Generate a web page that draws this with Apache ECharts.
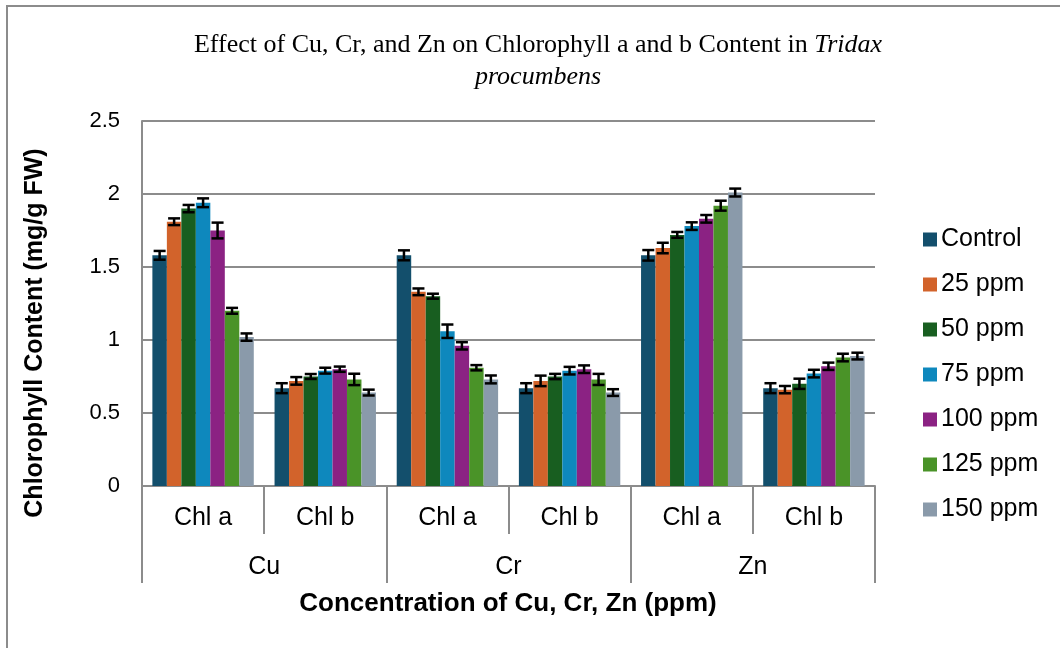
<!DOCTYPE html>
<html>
<head>
<meta charset="utf-8">
<script src="https://cdn.jsdelivr.net/npm/echarts@6/dist/echarts.min.js"></script>
<style>
  html, body { margin: 0; padding: 0; background: #fff; }
  #frame { position: absolute; left: 6px; top: 5px; width: 1100px; height: 700px; border: 2px solid #8c8c8c; box-sizing: border-box; }
  #chart { position: absolute; left: 0; top: 0; width: 1060px; height: 648px; }
</style>
</head>
<body>
<div id="frame"></div>
<div id="chart"></div>
<script>
// Pigment categories (inner axis) and metals (outer axis)
const pigments = ['Chl a', 'Chl b', 'Chl a', 'Chl b', 'Chl a', 'Chl b'];
const metals = ['Cu', 'Cr', 'Zn'];
const treatments = ['Control', '25 ppm', '50 ppm', '75 ppm', '100 ppm', '125 ppm', '150 ppm'];
const yTicks = [0, 0.5, 1, 1.5, 2, 2.5];

// Mean chlorophyll content (mg/g FW), one array per treatment, in pigment order
const control = [1.58, 0.67, 1.58, 0.67, 1.58, 0.67];
const ppm25   = [1.81, 0.72, 1.33, 0.72, 1.63, 0.66];
const ppm50   = [1.90, 0.75, 1.30, 0.75, 1.72, 0.70];
const ppm75   = [1.94, 0.79, 1.06, 0.79, 1.78, 0.77];
const ppm100  = [1.75, 0.80, 0.96, 0.80, 1.83, 0.82];
const ppm125  = [1.20, 0.73, 0.81, 0.73, 1.92, 0.88];
const ppm150  = [1.02, 0.64, 0.73, 0.64, 2.01, 0.89];

// Standard errors, same layout
const errControl = [0.03, 0.034, 0.034, 0.034, 0.036, 0.034];
const err25      = [0.023, 0.026, 0.023, 0.036, 0.036, 0.025];
const err50      = [0.025, 0.017, 0.017, 0.018, 0.02, 0.035];
const err75      = [0.03, 0.02, 0.046, 0.026, 0.026, 0.026];
const err100     = [0.054, 0.018, 0.025, 0.026, 0.026, 0.025];
const err125     = [0.02, 0.039, 0.018, 0.038, 0.034, 0.026];
const err150     = [0.025, 0.02, 0.027, 0.023, 0.027, 0.023];

const colors = ['#134f6c', '#d2632b', '#185e20', '#0e88bd', '#8b2283', '#4a9328', '#8a9aaa'];
const means = [control, ppm25, ppm50, ppm75, ppm100, ppm125, ppm150];
const errs = [errControl, err25, err50, err75, err100, err125, err150];

const CAT_GAP = 0.17;
const sans = 'Liberation Sans, Arial, sans-serif';
const serif = 'Liberation Serif, Times New Roman, serif';

const barSeries = treatments.map((name, s) => ({
  name: name,
  type: 'bar',
  xAxisIndex: 0,
  barGap: '0%',
  barCategoryGap: (CAT_GAP * 100) + '%',
  itemStyle: { color: colors[s] },
  data: means[s]
}));

// Error bar items: [category index, treatment index, mean, error]
const errData = [];
means.forEach((arr, s) => arr.forEach((v, c) => errData.push([c, s, v, errs[s][c]])));

const errorSeries = {
  type: 'custom',
  xAxisIndex: 0,
  z: 10,
  silent: true,
  data: errData,
  renderItem: function (params, api) {
    const c = api.value(0), s = api.value(1), v = api.value(2), e = api.value(3);
    const band = api.size([1, 0])[0];
    const groupW = band * (1 - CAT_GAP);
    const barW = groupW / treatments.length;
    const cx = api.coord([c, 0])[0] - groupW / 2 + (s + 0.5) * barW;
    const yTop = api.coord([c, v + e])[1];
    const yBot = api.coord([c, v - e])[1];
    const half = 6;
    const style = { stroke: '#000', lineWidth: 2.5 };
    return {
      type: 'group',
      children: [
        { type: 'line', shape: { x1: cx, y1: yTop, x2: cx, y2: yBot }, style: style },
        { type: 'line', shape: { x1: cx - half, y1: yTop, x2: cx + half, y2: yTop }, style: style },
        { type: 'line', shape: { x1: cx - half, y1: yBot, x2: cx + half, y2: yBot }, style: style }
      ]
    };
  }
};

const chart = echarts.init(document.getElementById('chart'), null, { renderer: 'canvas' });
chart.setOption({
  animation: false,
  backgroundColor: 'transparent',
  title: {
    text: 'Effect of Cu, Cr, and Zn on Chlorophyll a and b Content in {i|Tridax}\n{i|procumbens}',
    left: 533,
    top: 24,
    textAlign: 'center',
    textStyle: {
      fontFamily: serif,
      fontSize: 26,
      fontWeight: 'normal',
      color: '#000',
      lineHeight: 32,
      rich: {
        i: { fontFamily: serif, fontSize: 26, fontStyle: 'italic', color: '#000', lineHeight: 32 }
      }
    }
  },
  legend: {
    data: treatments,
    orient: 'vertical',
    left: 918,
    top: 222,
    itemWidth: 14,
    itemHeight: 14,
    itemGap: 20,
    icon: 'rect',
    textStyle: { fontFamily: sans, fontSize: 25, color: '#000', lineHeight: 25, padding: [0, 0, 0, -1] }
  },
  grid: { left: 142, right: 185, top: 121, bottom: 162, containLabel: false },
  xAxis: [
    {
      type: 'category',
      data: pigments,
      position: 'bottom',
      axisLine: { show: true, lineStyle: { color: '#8c8c8c', width: 2 } },
      axisTick: { show: true, interval: 0, length: 48, lineStyle: { color: '#8c8c8c', width: 2 } },
      axisLabel: { interval: 0, margin: 20, fontFamily: sans, fontSize: 25, color: '#000' },
      splitLine: { show: false }
    },
    {
      type: 'category',
      data: metals,
      position: 'bottom',
      axisLine: { show: false },
      axisTick: { show: true, interval: 0, length: 97, lineStyle: { color: '#8c8c8c', width: 2 } },
      axisLabel: { interval: 0, margin: 69, fontFamily: sans, fontSize: 25, color: '#000' },
      splitLine: { show: false }
    }
  ],
  yAxis: {
    type: 'value',
    min: yTicks[0],
    max: yTicks[yTicks.length - 1],
    interval: yTicks[1] - yTicks[0],
    axisLine: { show: true, lineStyle: { color: '#8c8c8c', width: 2 } },
    axisTick: { show: false },
    axisLabel: { margin: 22, fontFamily: sans, fontSize: 22, color: '#000' },
    splitLine: { show: true, lineStyle: { color: '#8c8c8c', width: 2 } }
  },
  graphic: [
    {
      type: 'text',
      x: 35, y: 333,
      rotation: Math.PI / 2,
      style: {
        text: 'Chlorophyll Content (mg/g FW)',
        fontFamily: sans, fontSize: 25, fontWeight: 'bold', fill: '#000',
        align: 'center', verticalAlign: 'middle'
      }
    },
    {
      type: 'text',
      x: 508, y: 604,
      style: {
        text: 'Concentration of Cu, Cr, Zn (ppm)',
        fontFamily: sans, fontSize: 26, fontWeight: 'bold', fill: '#000',
        align: 'center', verticalAlign: 'middle'
      }
    }
  ],
  series: barSeries.concat([errorSeries])
});
</script>
</body>
</html>
